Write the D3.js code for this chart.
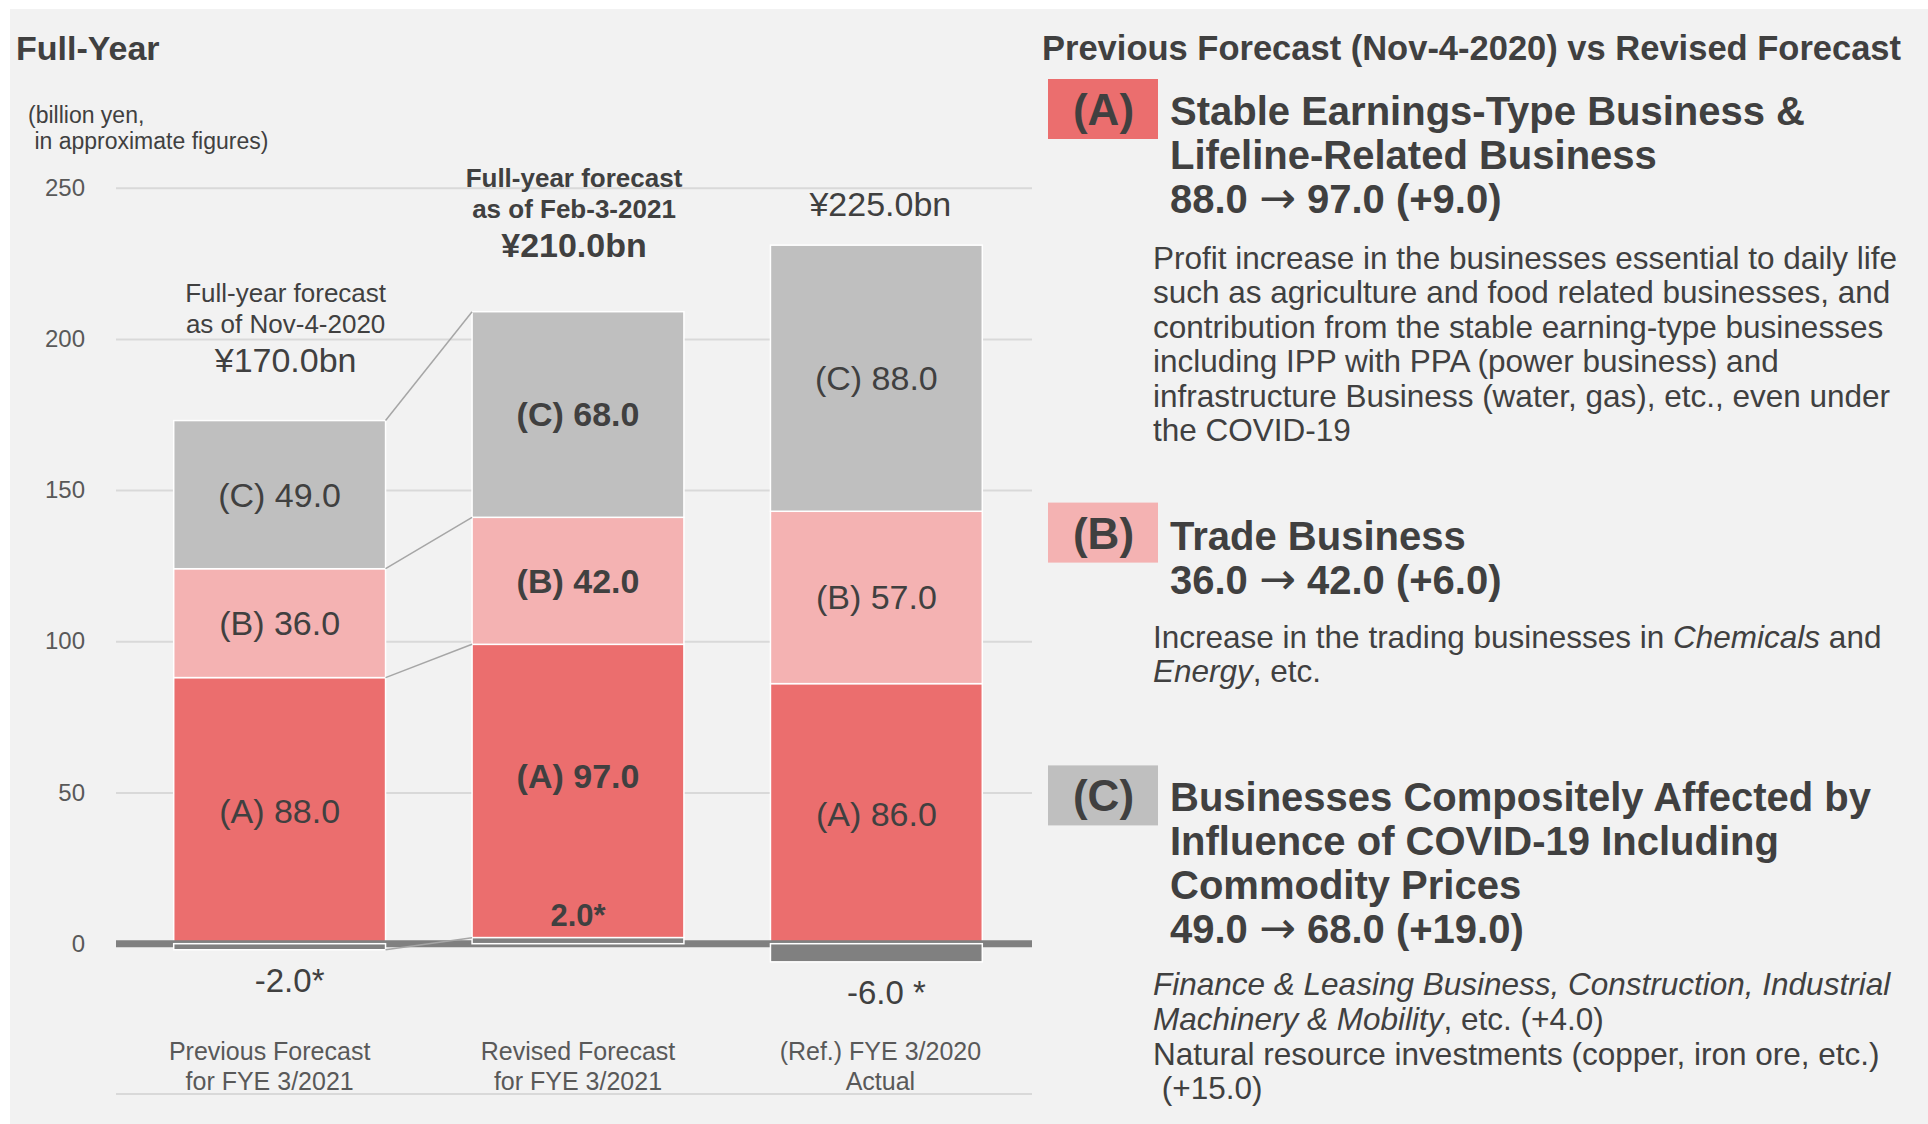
<!DOCTYPE html>
<html><head><meta charset="utf-8">
<script src="https://cdn.jsdelivr.net/npm/d3@7"></script>
<style>
html,body{margin:0;padding:0;background:#ffffff;}
svg{display:block;font-family:"Liberation Sans",Arial,Helvetica,sans-serif;}
</style></head><body>
<svg id="chart" width="1928" height="1124"></svg>
<script>
// ---------------- data ----------------
const categories = ["prev", "rev", "actual"];
const categoryLines = [["Previous Forecast", "for FYE 3/2021"], ["Revised Forecast", "for FYE 3/2021"], ["(Ref.) FYE 3/2020", "Actual"]];
const seriesA = [88.0, 97.0, 86.0];
const seriesB = [36.0, 42.0, 57.0];
const seriesC = [49.0, 68.0, 88.0];
const seriesOther = [-2.0, 2.0, -6.0];
const labelsA = ["(A) 88.0", "(A) 97.0", "(A) 86.0"];
const labelsB = ["(B) 36.0", "(B) 42.0", "(B) 57.0"];
const labelsC = ["(C) 49.0", "(C) 68.0", "(C) 88.0"];
const otherLabels = ["-2.0*", "2.0*", "-6.0 *"];
const totalLabels = ["¥170.0bn", "¥210.0bn", "¥225.0bn"];
const annotLines = [["Full-year forecast", "as of Nov-4-2020"], ["Full-year forecast", "as of Feb-3-2021"], []];
const emphasis = [false, true, false];
const yTicks = [0, 50, 100, 150, 200, 250];

const sectionKeys = ["(A)", "(B)", "(C)"];
const sectionHeadings = [
  ["Stable Earnings-Type Business &", "Lifeline-Related Business", "88.0 \u2192 97.0 (+9.0)"],
  ["Trade Business", "36.0 \u2192 42.0 (+6.0)"],
  ["Businesses Compositely Affected by", "Influence of COVID-19 Including", "Commodity Prices", "49.0 \u2192 68.0 (+19.0)"]
];
// body lines: arrays of [text, italic]
const sectionBodies = [
  [[["Profit increase in the businesses essential to daily life", 0]],
   [["such as agriculture and food related businesses, and", 0]],
   [["contribution from the stable earning-type businesses", 0]],
   [["including IPP with PPA (power business) and", 0]],
   [["infrastructure Business (water, gas), etc., even under", 0]],
   [["the COVID-19", 0]]],
  [[["Increase in the trading businesses in ", 0], ["Chemicals", 1], [" and", 0]],
   [["Energy", 1], [", etc.", 0]]],
  [[["Finance & Leasing Business, Construction, Industrial", 1]],
   [["Machinery & Mobility", 1], [", etc. (+4.0)", 0]],
   [["Natural resource investments (copper, iron ore, etc.)", 0]],
   [[" (+15.0)", 0]]]
];

// ---------------- style / layout ----------------
const colA = "#EB6E6E", colB = "#F4B2B2", colC = "#BFBFBF", colOther = "#808080";
const sectionColors = [colA, colB, colC];
const textDark = "#404040", textMid = "#595959";
const gridLeft = 116, gridRight = 1032;

const svg = d3.select("#chart");
svg.append("rect").attr("x", 10).attr("y", 9).attr("width", 1918).attr("height", 1115).attr("fill", "#f2f2f2");

const y = d3.scaleLinear().domain([0, 250]).range([943.7, 187.7]);
const x = d3.scaleBand().domain(categories).range([120, 1036]).paddingInner(0.29).paddingOuter(0.18);

// titles
svg.append("text").attr("x", 16).attr("y", 60).attr("font-size", 34).attr("font-weight", "bold")
  .attr("fill", textDark).text("Full-Year");
svg.append("text").attr("x", 28).attr("y", 123).attr("font-size", 23).attr("fill", textDark).text("(billion yen,");
svg.append("text").attr("x", 28).attr("y", 149).attr("font-size", 23).attr("fill", textDark)
  .style("white-space", "pre").text(" in approximate figures)");

// axis with gridlines
const axis = svg.append("g").attr("transform", `translate(${gridLeft},0)`)
  .call(d3.axisLeft(y).tickValues(yTicks).tickSize(-(gridRight - gridLeft)).tickPadding(31).tickFormat(d3.format("d")));
axis.select(".domain").remove();
axis.selectAll(".tick line").attr("stroke", "#d9d9d9").attr("stroke-width", 2);
axis.selectAll(".tick text").attr("font-size", 24).attr("fill", textMid).attr("font-family", "Liberation Sans, Arial, sans-serif");

// bottom rule
svg.append("line").attr("x1", gridLeft).attr("x2", gridRight).attr("y1", 1094).attr("y2", 1094)
  .attr("stroke", "#d9d9d9").attr("stroke-width", 2);

// stacking
const stacks = categories.map((c, i) => {
  const o = seriesOther[i];
  const base = Math.max(0, o);
  const a0 = base, a1 = a0 + seriesA[i];
  const b1 = a1 + seriesB[i];
  const c1 = b1 + seriesC[i];
  return {
    cat: c, i,
    other: o >= 0 ? [0, o] : [o, 0],
    A: [a0, a1], B: [a1, b1], C: [b1, c1]
  };
});

const segs = [];
stacks.forEach(s => {
  segs.push({cat: s.cat, i: s.i, key: "A", r: s.A, color: colA, label: labelsA[s.i]});
  segs.push({cat: s.cat, i: s.i, key: "B", r: s.B, color: colB, label: labelsB[s.i]});
  segs.push({cat: s.cat, i: s.i, key: "C", r: s.C, color: colC, label: labelsC[s.i]});
});

svg.append("g").selectAll("rect").data(segs).join("rect")
  .attr("x", d => x(d.cat)).attr("width", x.bandwidth())
  .attr("y", d => y(d.r[1])).attr("height", d => y(d.r[0]) - y(d.r[1]))
  .attr("fill", d => d.color).attr("stroke", "#ffffff").attr("stroke-width", 1.5);

// zero band
svg.append("line").attr("x1", gridLeft).attr("x2", gridRight).attr("y1", y(0)).attr("y2", y(0))
  .attr("stroke", colOther).attr("stroke-width", 7);

// other segments
svg.append("g").selectAll("rect").data(stacks).join("rect")
  .attr("x", d => x(d.cat)).attr("width", x.bandwidth())
  .attr("y", d => y(d.other[1])).attr("height", d => y(d.other[0]) - y(d.other[1]))
  .attr("fill", colOther).attr("stroke", "#ffffff").attr("stroke-width", 1.5);

// connector lines between bar 1 and bar 2
const s0 = stacks[0], s1 = stacks[1];
const levels = [
  [s0.C[1], s1.C[1]], [s0.B[1], s1.B[1]], [s0.A[1], s1.A[1]],
  [s0.other[0], s1.other[1]]
];
svg.append("g").selectAll("line").data(levels).join("line")
  .attr("x1", x(categories[0]) + x.bandwidth()).attr("x2", x(categories[1]))
  .attr("y1", d => y(d[0])).attr("y2", d => y(d[1]))
  .attr("stroke", "#a6a6a6").attr("stroke-width", 1.5);

// segment labels
const aShift = [0, -15, 0];
svg.append("g").selectAll("text").data(segs).join("text")
  .attr("x", d => x(d.cat) + x.bandwidth() / 2)
  .attr("y", d => y((d.r[0] + d.r[1]) / 2) + (d.key === "A" ? aShift[d.i] : 0))
  .attr("dy", "0.35em").attr("text-anchor", "middle")
  .attr("font-size", 34).attr("font-weight", d => emphasis[d.i] ? "bold" : "normal")
  .attr("fill", textDark).text(d => d.label);

// other labels
svg.append("g").selectAll("text").data(stacks).join("text")
  .attr("x", d => x(d.cat) + x.bandwidth() / 2 + (seriesOther[d.i] < 0 ? 10 : 0))
  .attr("y", d => seriesOther[d.i] < 0 ? y(d.other[0]) + 42 : y(d.other[1]) - 12)
  .attr("text-anchor", "middle")
  .attr("font-size", d => seriesOther[d.i] < 0 ? 33 : 31)
  .attr("font-weight", d => emphasis[d.i] ? "bold" : "normal")
  .attr("fill", textDark).text(d => otherLabels[d.i]);

// total labels and annotations
const totalGap = [49, 55, 29];
const annotDx = [6, -4, 4];
stacks.forEach(s => {
  const cx = x(s.cat) + x.bandwidth() / 2 + annotDx[s.i];
  const base = y(s.C[1]) - totalGap[s.i];
  const bold = emphasis[s.i] ? "bold" : "normal";
  svg.append("text").attr("x", cx).attr("y", base).attr("text-anchor", "middle")
    .attr("font-size", 34).attr("font-weight", bold).attr("fill", textDark).text(totalLabels[s.i]);
  const lines = annotLines[s.i];
  lines.forEach((t, k) => {
    svg.append("text").attr("x", cx).attr("y", base - 39 - 31 * (lines.length - 1 - k))
      .attr("text-anchor", "middle").attr("font-size", 26).attr("font-weight", bold)
      .attr("fill", textDark).text(t);
  });
});

// category labels
const catDx = [-10, 0, 4];
stacks.forEach(s => {
  const cx = x(s.cat) + x.bandwidth() / 2 + catDx[s.i];
  categoryLines[s.i].forEach((t, k) => {
    svg.append("text").attr("x", cx).attr("y", 1060 + 30 * k).attr("text-anchor", "middle")
      .attr("font-size", 25).attr("fill", textMid).text(t);
  });
});

// ---------------- right panel ----------------
svg.append("text").attr("x", 1042).attr("y", 59.5).attr("font-size", 34.5).attr("font-weight", "bold")
  .attr("fill", textDark).text("Previous Forecast (Nov-4-2020) vs Revised Forecast");

const boxTops = [79, 502.6, 765.4];
const headBases = [125, 549.5, 810.5];
const bodyBases = [268.7, 648.4, 995.4];
const bodyStep = [34.5, 34, 34.6];
sectionKeys.forEach((k, i) => {
  svg.append("rect").attr("x", 1048).attr("y", boxTops[i]).attr("width", 110).attr("height", 60)
    .attr("fill", sectionColors[i]);
  svg.append("text").attr("x", 1103.5).attr("y", boxTops[i] + 46).attr("text-anchor", "middle")
    .attr("font-size", 44).attr("font-weight", "bold").attr("fill", textDark).text(k);
  sectionHeadings[i].forEach((t, j) => {
    const tx = svg.append("text").attr("x", 1170).attr("y", headBases[i] + 44 * j)
      .attr("font-size", 40).attr("font-weight", "bold").attr("fill", textDark)
      .style("white-space", "pre");
    const parts = t.split("\u2192");
    parts.forEach((p, n) => {
      if (n > 0) {
        tx.append("tspan").attr("font-family", "DejaVu Sans").attr("font-weight", "normal")
          .attr("font-size", 44).text("\u2192");
      }
      tx.append("tspan").text(p);
    });
  });
  sectionBodies[i].forEach((runs, j) => {
    const tx = svg.append("text").attr("x", 1153).attr("y", bodyBases[i] + bodyStep[i] * j)
      .attr("font-size", 31.5).attr("fill", textDark).style("white-space", "pre");
    runs.forEach(r => {
      tx.append("tspan").attr("font-style", r[1] ? "italic" : "normal").text(r[0]);
    });
  });
});
</script>
</body></html>
